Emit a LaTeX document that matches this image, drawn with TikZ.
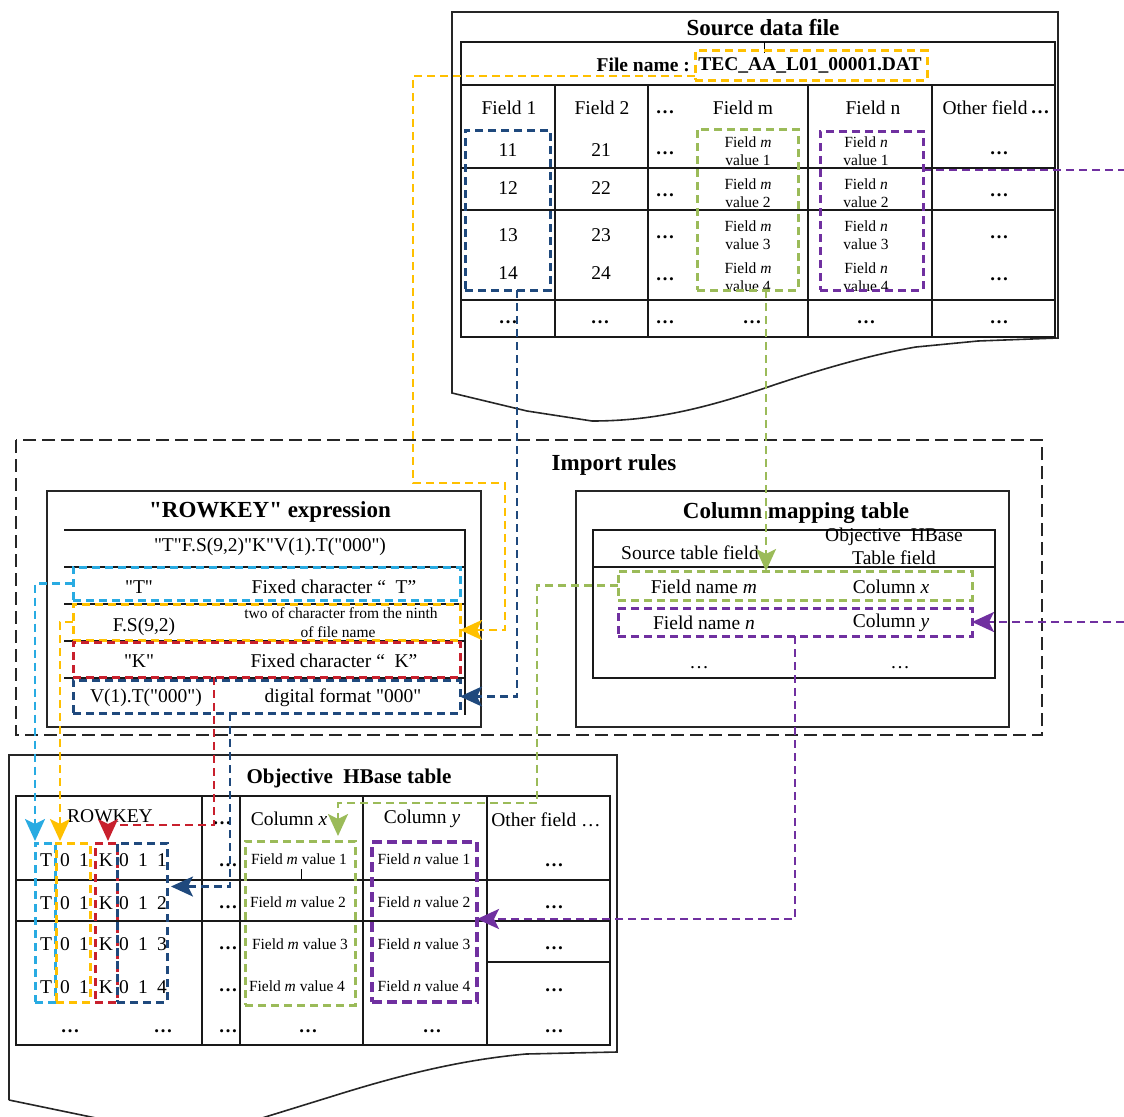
\documentclass[tikz,border=0pt]{standalone}
\usepackage{fontspec}
\setmainfont{Liberation Serif}[Ligatures=TeXOff]
\usetikzlibrary{arrows.meta,fit,calc}
\definecolor{cy}{RGB}{255,192,0}
\definecolor{cb}{RGB}{31,73,125}
\definecolor{cg}{RGB}{155,187,89}
\definecolor{cp}{RGB}{112,48,160}
\definecolor{cc}{RGB}{41,171,226}
\definecolor{cr}{RGB}{200,32,45}
\tikzset{
  dbox/.style={draw=#1, line width=3pt, dash pattern=on 8pt off 5pt, inner sep=0pt, outer sep=0pt, rectangle},
  conn/.style={draw=#1, line width=2.8pt, dash pattern=on 8pt off 5pt, -{Stealth[length=22pt,width=20pt,inset=5pt,fill=#1]}},
  ln/.style={draw=#1, line width=2.8pt, dash pattern=on 8pt off 5pt},
  tl/.style={font=\fontsize{23}{26}\selectfont\bfseries, inner sep=0pt},
  tbx/.style={font=\fontsize{19.5}{22}\selectfont\bfseries, inner sep=0pt},
  tx/.style={font=\fontsize{19.5}{22}\selectfont, inner sep=0pt},
  sm/.style={font=\fontsize{15.5}{17}\selectfont, inner sep=0pt},
  bd/.style={font=\fontsize{19}{22}\selectfont\bfseries, inner sep=0pt},
  tb/.style={line width=2.6pt, draw=black!90},
  fr/.style={line width=1.6pt, draw=black!85},
}
\begin{document}
\begin{tikzpicture}[x=1pt,y=-1pt]
\useasboundingbox (0,0) rectangle (1124,1116);

%% ================= Source data file =================
\draw[fr] (452,393) -- (452,12) -- (1058,12) -- (1058,338) -- (978,341) -- (916,347)
  .. controls (880,353) and (830,366) .. (768,387)
  .. controls (700,410) and (650,421) .. (592,421) -- (527,411) -- cycle;
\draw[tb] (461,42) rectangle (1055,337);
\foreach \yy in {85,168,210,300} \draw[tb] (461,\yy) -- (1055,\yy);
\foreach \xx in {555,648,808,932} \draw[tb] (\xx,85) -- (\xx,337);
\draw[line width=1pt] (764,42) -- (764,53);

\node[tl] (srcT) at (763,28) {Source data file};
\node[tbx,anchor=east] (fnl) at (690,65) {File name :};
\node[tbx] (fnv) at (810,65) {TEC\_AA\_L01\_00001.DAT};

\foreach \x/\t [count=\i] in {509/Field 1, 602/Field 2, 743/Field m, 873/Field n, 985/Other field}
  \node[tx] (sh\i) at (\x,108) {\t};
\node[bd] (shd1) at (665,112) {…};
\node[bd] (shd2) at (1040,112) {…};

\foreach \y/\a/\b [count=\i] in {150/11/21, 188/12/22, 235/13/23, 273/14/24} {
  \node[tx] (sa\i) at (508,\y) {\a};
  \node[tx] (sb\i) at (601,\y) {\b};
}
\foreach \y [count=\i] in {153,195,237,279} {
  \node[bd] (sd\i) at (665,\y) {…};
  \node[bd] (so\i) at (999,\y) {…};
}
\foreach \y/\v [count=\i] in {142/1, 184/2, 226/3, 268/4} {
  \node[sm] (smf\i) at (748,\y) {Field \textit{m}};
  \node[sm] (smv\i) at (748,\y+18) {value \v};
  \node[sm] (snf\i) at (866,\y) {Field \textit{n}};
  \node[sm] (snv\i) at (866,\y+18) {value \v};
}
\foreach \x [count=\i] in {508,600,665,752,866,999}
  \node[bd] (sl\i) at (\x,322) {…};

% dashed boxes in source
\node[dbox=cy, fit={(695,51) (927,80)}] (tecbox) {};
\node[dbox=cb, fit={(465,130) (550,290)}] (srcB) {};
\node[dbox=cg, fit={(697,129) (798,290)}] (srcG) {};
\node[dbox=cp, fit={(820,131) (923,290)}] (srcP) {};

%% ================= Import rules =================
\draw[line width=2.8pt, draw=black!85, dash pattern=on 13pt off 6pt] (16,440) rectangle (1042,735);
\node[tl] (impT) at (614,465) {Import rules};

% ROWKEY expression
\draw[fr] (47,491) rectangle (481,727);
\node[tl] (rkT) at (270,512) {"ROWKEY" expression};
\draw[tb] (64,530) -- (465,530) -- (465,715);
\foreach \yy in {567,604,641,678} \draw[tb] (64,\yy) -- (465,\yy);
\node[tx] (rk0) at (270,547) {"T"F.S(9,2)"K"V(1).T("000")};
\node[tx] (rk1a) at (139,587) {"T"};
\node[tx] (rk1b) at (334,587) {Fixed character “~~T”};
\node[tx] (rk2a) at (144,627) {F.S(9,2)};
\node[sm] (rk2b) at (341,613) {two of character from the ninth};
\node[sm] (rk2c) at (338,632) {of file name};
\node[tx] (rk3a) at (139,661) {"K"};
\node[tx] (rk3b) at (334,661) {Fixed character “~~K”};
\node[tx] (rk4a) at (146,698) {V(1).T("000")};
\node[tx] (rk4b) at (343,698) {digital format "000"};

\node[dbox=cc, fit={(73,567) (460,600)}] (rkC) {};
\node[dbox=cy, fit={(73,604) (460,640)}] (rkY) {};
\node[dbox=cr, fit={(73,642) (460,677)}] (rkR) {};
\node[dbox=cb, fit={(73,680) (460,713)}] (rkB) {};

% Column mapping table
\draw[fr] (576,491) rectangle (1009,727);
\node[tl] (mpT) at (796,513) {Column mapping table};
\draw[tb] (593,530) rectangle (995,678);
\draw[tb] (593,567) -- (995,567);
\node[tx] (mh1) at (690,553) {Source table field};
\node[tx] (mh2) at (894,537) {Objective~~HBase};
\node[tx] (mh3) at (894,558) {Table field};
\node[tx] (mr1a) at (704,587) {Field name \textit{m}};
\node[tx] (mr1b) at (891,587) {Column \textit{x}};
\node[tx] (mr2a) at (704,623) {Field name \textit{n}};
\node[tx] (mr2b) at (891,623) {Column \textit{y}};
\node[tx] (mr3a) at (699,668) {…};
\node[tx] (mr3b) at (900,668) {…};
\node[dbox=cg, fit={(618,571) (972,600)}] (mapG) {};
\node[dbox=cp, fit={(618,608) (972,636)}] (mapP) {};

%% ================= Objective HBase table =================
\draw[fr] (9,1100) -- (9,755) -- (617,755) -- (617,1052) -- (526,1054)
  .. controls (460,1060) and (400,1075) .. (330,1097) -- (262,1118);
\draw[fr] (9,1100) -- (96,1118);
\node[tl,font=\fontsize{21}{24}\selectfont\bfseries] (hbT) at (349,778) {Objective~~HBase table};
\draw[tb] (16,796) rectangle (610,1045);
\foreach \yy in {880,921} \draw[tb] (16,\yy) -- (610,\yy);
\draw[tb] (487,962) -- (610,962);
\foreach \xx in {202,240,363,487} \draw[tb] (\xx,796) -- (\xx,1045);
\draw[line width=1pt] (301,869) -- (301,879);

\node[tx] (hh1) at (110,816) {ROWKEY};
\node[bd] (hh2) at (222,823) {…};
\node[tx] (hh3) at (289,819) {Column \textit{x}};
\node[tx] (hh4) at (422,819) {Column \textit{y}};
\node[tx] (hh5) at (546,820) {Other field …};

\foreach \y/\v [count=\i] in {860/1, 903/2, 944/3, 987/4} {
  \node[tx] (kT\i) at (46,\y) {T};
  \node[tx] (k0\i) at (65,\y) {0};
  \node[tx] (k1\i) at (84,\y) {1};
  \node[tx] (kK\i) at (106,\y) {K};
  \node[tx] (k2\i) at (124,\y) {0};
  \node[tx] (k3\i) at (143,\y) {1};
  \node[tx] (k4\i) at (162,\y) {\v};
}
\foreach \y [count=\i] in {865,907,948,990} {
  \node[bd] (hd\i) at (228,\y) {…};
  \node[bd] (ho\i) at (554,\y) {…};
}
\foreach \y/\v/\xm [count=\i] in {859/1/299, 902/2/298, 944/3/300, 986/4/297} {
  \node[sm] (hm\i) at (\xm,\y) {Field \textit{m} value \v};
  \node[sm] (hn\i) at (424,\y) {Field \textit{n} value \v};
}
\foreach \x [count=\i] in {70,163,228,308,432,554}
  \node[bd] (hl\i) at (\x,1031) {…};

\node[dbox=cc, fit={(35,843) (55,1002)}] (hbC) {};
\node[dbox=cy, fit={(56,843) (90,1002)}] (hbY) {};
\node[dbox=cr, fit={(95,843) (117,1002)}] (hbR) {};
\node[dbox=cb, fit={(117,843) (167,1002)}] (hbB) {};
\node[dbox=cg, fit={(245,841) (355,1005)}] (hbG) {};
\node[dbox=cp, fit={(372,842) (477,1002)}, line width=3.4pt, dash pattern=on 10pt off 5pt] (hbP) {};

%% ================= Connectors =================
% yellow: file name -> F.S(9,2)
\coordinate (yb1) at (413,483);
\coordinate (yb2) at (505,630);
\draw[conn=cy] ($(tecbox.south west)+(0,-4)$) -| (yb1) -| (yb2) -- ($(rkY.south east)+(0,-10)$);
% blue: field 1 -> V(1)
\draw[conn=cb] ($(srcB.south)+(9.5,0)$) |- (rkB.east);
% green: field m -> mapping
\coordinate (gs) at ($(srcG.south)+(18.5,0)$);
\draw[conn=cg] (gs) -- (gs |- mapG.north);
% purple: field n -> off right edge -> column y
\coordinate (pr1) at (1124,170);
\coordinate (pr2) at (1124,622);
\draw[ln=cp] ($(srcP.north east)+(0,39)$) -- (pr1);
\draw[conn=cp] (pr2) -- (mapP.east);
% mapping -> HBase
\coordinate (gb1) at (537,803);
\draw[conn=cg] (mapG.west) -| (gb1) -| ($(hbG.north east)+(-17,-5)$);
\draw[conn=cp] (mapP.south) |- ($(hbP.east)+(0,-3)$);
% ROWKEY -> HBase
\draw[conn=cc] (rkC.west) -| ($(hbC.north west)+(0,-2)$);
\draw[conn=cy] (rkY.west) -| ($(hbY.north west)+(4,-2)$);
\coordinate (rs) at ($(rkR.south west)+(141,0)$);
\coordinate (rc) at ($(hbR.north)+(2,-18)$);
\draw[conn=cr] (rs) |- (rc) -- ($(hbR.north)+(2,-2)$);
\draw[conn=cb] ($(rkB.south west)+(157,0)$) |- ($(hbB.east)+(4,-36)$);
\end{tikzpicture}
\end{document}
